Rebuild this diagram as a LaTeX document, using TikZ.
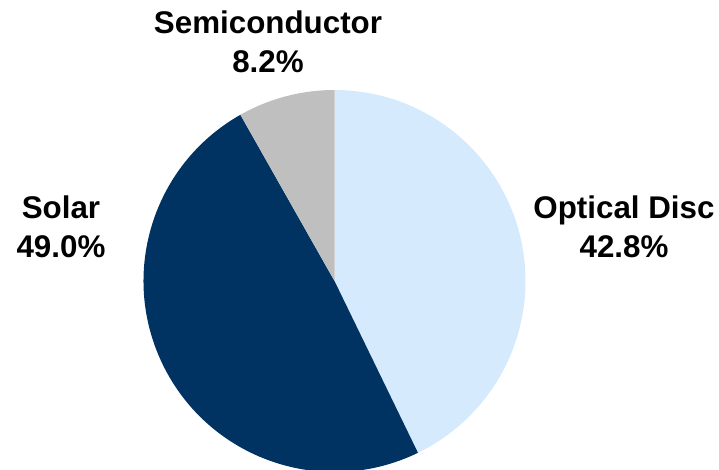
\documentclass[tikz,border=0pt]{standalone}
\usepackage{fontspec}
\setmainfont{Liberation Sans}
\usetikzlibrary{positioning}
\definecolor{discblue}{RGB}{214,234,253}
\definecolor{solarnavy}{RGB}{0,50,98}
\definecolor{semigray}{RGB}{191,191,191}

\begin{document}
\begin{tikzpicture}[x=0.75pt, y=0.75pt,
  pielabel/.style={align=center, inner sep=0pt, font=\bfseries\fontsize{23.5}{29.5}\selectfont}]
\useasboundingbox (0,0) rectangle (719,469);
\coordinate (ctr) at (334.5,188);
% Optical Disc: 42.8%
\fill[discblue] (ctr) -- ++(90:191) arc[start angle=90, end angle=-64.08, radius=191] -- cycle;
% Solar: 49.0%
\fill[solarnavy] (ctr) -- ++(-64.08:191) arc[start angle=-64.08, end angle=-240.48, radius=191] -- cycle;
% Semiconductor: 8.2%
\fill[semigray] (ctr) -- ++(119.52:191) arc[start angle=119.52, end angle=90, radius=191] -- cycle;
% labels
\node[pielabel] (semi) at (268,427) {Semiconductor\\8.2\%};
\node[pielabel] (solar) at (61,242) {Solar\\49.0\%};
\node[pielabel] (disc) at (624,242) {Optical Disc\\42.8\%};
\end{tikzpicture}
\end{document}
